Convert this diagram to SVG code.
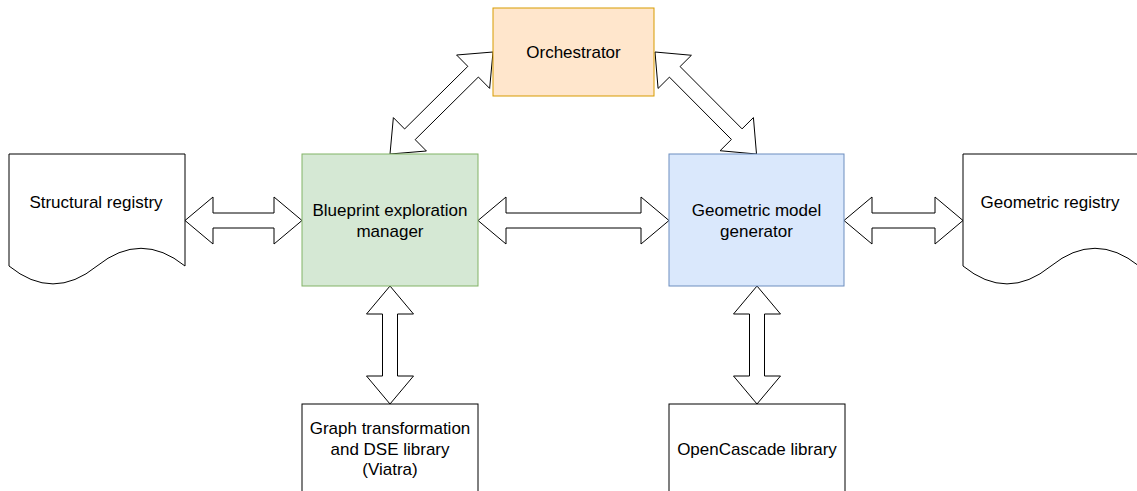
<svg xmlns="http://www.w3.org/2000/svg" width="1137" height="491" viewBox="0 0 1137 491">
<style>
  .lbl { font-family: "Liberation Sans", Arial, sans-serif; font-size: 17px; fill: #000; text-anchor: middle; }
  .arrow { fill: #fff; stroke: #000; stroke-width: 1; stroke-linejoin: miter; }
  .plain { fill: #fff; stroke: #000; stroke-width: 1; }
</style>
<rect width="1137" height="491" fill="#fff"/>
<g id="connectors">
  <polygon class="arrow" points="390,154 426.42,151 415.17,139.63 478.39,77.03 489.64,88.4 493,52 456.58,55 467.83,66.37 404.61,128.97 393.36,117.6"/>
  <polygon class="arrow" points="655,52 658.09,88.43 669.43,77.14 731.43,139.44 720.09,150.73 756.5,154 753.41,117.57 742.07,128.86 680.07,66.56 691.41,55.27"/>
  <polygon class="arrow" points="185,220.5 213,197 213,213 274,213 274,197 302,220.5 274,244 274,228 213,228 213,244"/>
  <polygon class="arrow" points="478,220.5 506,197 506,213 641,213 641,197 669,220.5 641,244 641,228 506,228 506,244"/>
  <polygon class="arrow" points="844,220.5 872,197 872,213 935,213 935,197 963,220.5 935,244 935,228 872,228 872,244"/>
  <polygon class="arrow" points="390,286 413.5,314 397.5,314 397.5,376 413.5,376 390,404 366.5,376 382.5,376 382.5,314 366.5,314"/>
  <polygon class="arrow" points="757,286 780.5,314 764.5,314 764.5,376 780.5,376 757,404 733.5,376 749.5,376 749.5,314 733.5,314"/>
</g>
<g id="orchestrator">
  <rect x="493" y="8" width="161" height="88" fill="#ffe6cc" stroke="#d79b00"/>
  <text class="lbl" x="573.5" y="57.5">Orchestrator</text>
</g>
<g id="blueprint">
  <rect x="302" y="154" width="176" height="132" fill="#d5e8d4" stroke="#82b366"/>
  <text class="lbl" x="390" y="216">Blueprint exploration</text>
  <text class="lbl" x="390" y="236.5">manager</text>
</g>
<g id="geometric">
  <rect x="669" y="154" width="175" height="132" fill="#dae8fc" stroke="#6c8ebf"/>
  <text class="lbl" x="756.5" y="216">Geometric model</text>
  <text class="lbl" x="756.5" y="236.5">generator</text>
</g>
<g id="structural-registry">
  <path class="plain" d="M9,154 H185 V266 Q141,230.6 97,266 Q53,301.8 9,266 Z"/>
  <text class="lbl" x="96" y="208">Structural registry</text>
</g>
<g id="geometric-registry">
  <path class="plain" d="M963,154 H1139 V266 Q1095,230.6 1051,266 Q1007,301.8 963,266 Z"/>
  <text class="lbl" x="1050" y="208">Geometric registry</text>
</g>
<g id="graph-library">
  <rect class="plain" x="302" y="404" width="176" height="88"/>
  <text class="lbl" x="390" y="434">Graph transformation</text>
  <text class="lbl" x="390" y="454.5">and DSE library</text>
  <text class="lbl" x="390" y="475">(Viatra)</text>
</g>
<g id="opencascade">
  <rect class="plain" x="669" y="404" width="176" height="88"/>
  <text class="lbl" x="757" y="454.5">OpenCascade library</text>
</g>
</svg>
